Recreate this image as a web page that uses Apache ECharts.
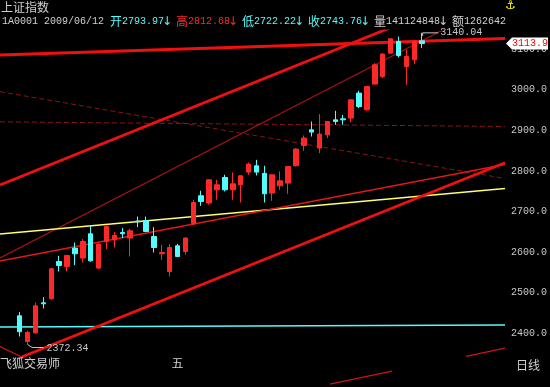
<!DOCTYPE html>
<html><head><meta charset="utf-8">
<script src="https://cdn.jsdelivr.net/npm/echarts@6/dist/echarts.min.js"></script>
<style>html,body{margin:0;padding:0;background:#000}#c{width:550px;height:387px}</style>
</head><body><div id="c"></div>
<script>
// ---------- data ----------
const indexName = '上证指数';
const indexCode = '1A0001';
const cursorDate = '2009-06-12';
const volumeText = '141124848';
const amountText = '1262642';
const brandText = '飞狐交易师';
const periodText = '日线';

const dates = ['2009-04-27','2009-04-28','2009-04-29','2009-04-30','2009-05-04','2009-05-05','2009-05-06','2009-05-07','2009-05-08',
  '2009-05-11','2009-05-12','2009-05-13','2009-05-14','2009-05-15','2009-05-18','2009-05-19','2009-05-20','2009-05-21','2009-05-22',
  '2009-05-25','2009-05-26','2009-05-27','2009-06-01','2009-06-02','2009-06-03','2009-06-04','2009-06-05','2009-06-08','2009-06-09',
  '2009-06-10','2009-06-11','2009-06-12','2009-06-15','2009-06-16','2009-06-17','2009-06-18','2009-06-19','2009-06-22','2009-06-23',
  '2009-06-24','2009-06-25','2009-06-26','2009-06-29','2009-06-30','2009-07-01','2009-07-02','2009-07-03','2009-07-06','2009-07-07',
  '2009-07-08','2009-07-09','2009-07-10'];
const openV  = [2443.1,2379.8,2401.2,2475.1,2485.0,2576.8,2564.5,2609.8,2585.2,2645.1,2560.6,2626.1,2630.3,2648.3,2634.5,2676.5,2677.8,2638.4,2595.8,
  2552.2,2615.5,2601.5,2669.7,2738.7,2720.7,2753.4,2783.7,2753.4,2765.8,2797.0,2812.6,2793.97,2745.3,2763.3,2769.9,2812.6,2862.6,2901.2,2856.1,
  2888.9,2925.8,2928.3,2930.0,2991.6,2950.5,3013.8,3032.5,3090.1,3118.7,3057.1,3073.6,3120.4];
const closeV = [2403.7,2402.0,2467.7,2472.7,2558.9,2567.0,2591.6,2595.8,2626.1,2578.6,2619.7,2663.0,2640.9,2645.1,2652.5,2674.6,2650.7,2611.3,2599.0,
  2611.3,2589.2,2634.5,2722.2,2724.6,2778.1,2765.8,2753.4,2768.2,2787.9,2816.7,2797.0,2743.76,2790.4,2775.6,2810.8,2853.7,2880.8,2895.6,2890.6,
  2921.7,2921.7,2925.8,2975.1,2958.6,3007.9,3061.3,3087.7,3125.4,3084.2,3081.8,3118.7,3113.9];
const lowV   = [2392.1,2372.34,2398.8,2461.1,2482.5,2552.2,2552.2,2568.0,2574.4,2576.2,2558.2,2607.4,2611.3,2634.5,2589.2,2661.6,2650.0,2599.0,2581.0,
  2539.9,2587.7,2593.3,2667.2,2714.0,2716.5,2728.8,2749.3,2728.8,2722.2,2790.4,2788.7,2722.22,2726.3,2753.4,2743.6,2810.8,2849.5,2884.7,2843.8,
  2880.8,2913.5,2913.5,2920.2,2954.7,2948.0,3012.9,3028.6,3089.5,3079.3,3012.1,3063.0,3102.5];
const highV  = [2452.2,2406.2,2475.9,2489.2,2561.3,2590.9,2593.3,2623.6,2632.0,2664.8,2622.0,2665.5,2649.3,2659.1,2657.4,2687.7,2687.7,2661.6,2618.0,
  2619.7,2620.4,2636.9,2728.8,2751.0,2779.0,2778.1,2790.4,2796.1,2789.0,2820.7,2827.3,2812.68,2791.0,2798.5,2811.5,2856.1,2887.2,2921.7,2939.9,
  2922.5,2948.0,2938.2,2976.0,2997.3,3008.5,3065.5,3090.1,3127.1,3131.0,3098.3,3122.9,3140.04];
const padBefore = ['2009-04-23','2009-04-24'];
const padAfter  = ['2009-07-13','2009-07-14','2009-07-15','2009-07-16','2009-07-17','2009-07-20','2009-07-21','2009-07-22','2009-07-23','2009-07-24'];
const yTicks = [2400,2500,2600,2700,2800,2900,3000,3100];
const bottomMarks = {'2009-05-26':'五'};

// drawn trend lines, endpoints as [slot, index value]
const thickLines  = [[[0,3085.5],[64,3126.1]], [[0,2765.3],[50.69,3162.3]], [[2.75,2341.6],[64,2820.2]]];
const thinRedLines = [[[0,2367.5],[2.75,2341.6]], [[41.82,2274.6],[49.68,2306.6]], [[59.06,2343.3],[64,2363.5]]];
const midRedLine  = [[0,2578.1],[64,2815.8]];
const darkRedLine = [[0,2585.5],[58.3,3169.0]];
const dashedLines = [[[0,2995.1],[64,2781.3]], [[0,2920.9],[64,2909.4]]];
const yellowLine  = [[0,2644.6],[64,2756.7]];
const cyanLine    = [[0,2415.5],[64,2420.4]];

// ---------- chart ----------
const RED = '#ff2828', CYAN = '#54fcfc', TXT = '#d0d0d0';
const MONO = '"Liberation Mono","DejaVu Sans Mono",monospace';
const CJK = '"Noto Sans CJK SC","Noto Sans CJK JP",sans-serif';
const YMIN = 2267.7, YMAX = 3144.6;

const allDates = padBefore.concat(dates, padAfter);
const candleData = dates.map((d, i) => [i + padBefore.length, openV[i], closeV[i], lowV[i], highV[i]]);

function lineSeries(pts, color, width, type, z) {
  return {type: 'line', xAxisIndex: 1, yAxisIndex: 0, data: pts, symbol: 'none', silent: true, clip: true,
    z: z || 1, lineStyle: {color: color, width: width, type: type || 'solid'}};
}
const series = [];
dashedLines.forEach(l => series.push(lineSeries(l, '#8c1414', 1, [5, 3])));
series.push(lineSeries(darkRedLine, '#a81414', 1.1));
series.push(lineSeries(cyanLine, CYAN, 1.4));
series.push(lineSeries(yellowLine, '#ffff70', 1.4));
series.push(lineSeries(midRedLine, '#e01818', 1.6));
thinRedLines.forEach(l => series.push(lineSeries(l, '#d01414', 1.2)));
thickLines.forEach(l => series.push(lineSeries(l, '#f01010', 2.8)));
series.unshift({
  type: 'candlestick', data: candleData, encode: {x: 0, y: [1, 2, 3, 4]}, barWidth: 5, z: 5,
  itemStyle: {color: RED, color0: CYAN, borderColor: RED, borderColor0: CYAN, borderWidth: 1}
});

const chart = echarts.init(document.getElementById('c'), null, {renderer: 'canvas'});
chart.setOption({
  animation: false,
  backgroundColor: '#000',
  grid: {left: 0, right: 45, top: 31, bottom: 0},
  xAxis: [{
    type: 'category', data: allDates, boundaryGap: true,
    axisLine: {show: false}, axisTick: {show: false}, splitLine: {show: false},
    axisLabel: {inside: true, interval: 0, margin: 18, color: TXT, fontSize: 12, fontFamily: CJK,
      formatter: v => bottomMarks[v] || ''}
  }, {
    type: 'value', show: false, min: 0, max: 64
  }],
  yAxis: {
    type: 'value', position: 'right', min: YMIN, max: YMAX,
    axisLine: {show: false}, axisTick: {show: false}, splitLine: {show: false},
    axisLabel: {customValues: yTicks, margin: 6, color: '#c8c8c8', fontSize: 10, fontFamily: MONO,
      formatter: v => (v < 2400 || v > 3100) ? '' : Number(v).toFixed(1)}
  },
  series: series
});

// ---------- texts & annotations ----------
const g = [];
function textRuns(str, x, y, color) {
  let cur = '', kind = null, cx = x;
  const flush = () => {
    if (!cur) return;
    if (kind === 'arrow') {
      for (let k = 0; k < cur.length; k++) {
        g.push({type: 'text', x: cx + 3, y: y, silent: true, z: 100,
          style: {text: cur[k], fill: color, font: '12px "DejaVu Sans"', verticalAlign: 'middle', align: 'center'}});
        cx += 6;
      }
    } else {
      g.push({type: 'text', x: cx, y: y, silent: true, z: 100,
        style: {text: cur, fill: color, font: kind === 'wide' ? ('12px ' + CJK) : ('10px ' + MONO), verticalAlign: 'middle', align: 'left'}});
      cx += cur.length * (kind === 'wide' ? 12 : 6);
    }
    cur = '';
  };
  for (const ch of str) {
    const k = ch === '↓' ? 'arrow' : (/[\u3000-\u9fff\uff00-\uffef]/.test(ch) ? 'wide' : 'narrow');
    if (kind !== null && k !== kind) flush();
    kind = k; cur += ch;
  }
  flush();
  return cx;
}
const ci = dates.indexOf(cursorDate);
textRuns(indexName, 1, 7, TXT);
let hx = textRuns(indexCode + ' ' + cursorDate.replace(/-/g, '/') + ' ', 2, 21.5, TXT);
hx = textRuns('开' + openV[ci].toFixed(2) + '↓ ', hx, 21.5, CYAN);
hx = textRuns('高' + highV[ci].toFixed(2) + '↓ ', hx, 21.5, RED);
hx = textRuns('低' + lowV[ci].toFixed(2) + '↓ ', hx, 21.5, CYAN);
hx = textRuns('收' + closeV[ci].toFixed(2) + '↓ ', hx, 21.5, CYAN);
hx = textRuns('量' + volumeText + '↓ ', hx, 21.5, TXT);
hx = textRuns('额' + amountText, hx, 21.5, TXT);
g.push({type: 'text', x: 505, y: 6, silent: true, z: 100,
  style: {text: '⚓', fill: '#ffff00', font: 'bold 12px "DejaVu Sans"', verticalAlign: 'middle'}});
textRuns(brandText, 0, 363, TXT);
textRuns(periodText, 516, 365, TXT);

// highest / lowest marks
const hi = highV.indexOf(Math.max(...highV));
const lo = lowV.indexOf(Math.min(...lowV));
const ph = chart.convertToPixel({seriesIndex: 0}, [hi + padBefore.length, highV[hi]]);
const pl = chart.convertToPixel({seriesIndex: 0}, [lo + padBefore.length, lowV[lo]]);
g.push({type: 'polyline', silent: true, z: 100, shape: {points: [[ph[0] + 0.5, ph[1] + 3], [ph[0] + 0.5, ph[1]], [ph[0] + 16, ph[1]]]},
  style: {stroke: '#c8c8c8', lineWidth: 1, fill: null}});
textRuns(highV[hi].toFixed(2), ph[0] + 18, ph[1], '#c8c8c8');
g.push({type: 'polyline', silent: true, z: 100, shape: {points: [[pl[0], pl[1]], [pl[0] + 4.5, pl[1] + 3], [pl[0] + 16, pl[1] + 3]]},
  style: {stroke: '#c8c8c8', lineWidth: 1, fill: null}});
textRuns(lowV[lo].toFixed(2), pl[0] + 19, pl[1] + 3.5, '#c8c8c8');

// last close tag on the price axis
const lastClose = closeV[closeV.length - 1];
const pc = chart.convertToPixel({seriesIndex: 0}, [dates.length - 1 + padBefore.length, lastClose]);
const ty = Math.round(pc[1]) + 0.5;
g.push({type: 'polygon', silent: true, z: 99, shape: {points: [[506, ty], [512, ty - 6], [548, ty - 6], [548, ty + 6], [512, ty + 6]]},
  style: {fill: '#ffffff'}});
g.push({type: 'text', x: 512, y: ty, silent: true, z: 100,
  style: {text: lastClose.toFixed(1), fill: '#ff0000', font: '10px ' + MONO, verticalAlign: 'middle'}});

chart.setOption({graphic: g});
</script>
</body></html>
